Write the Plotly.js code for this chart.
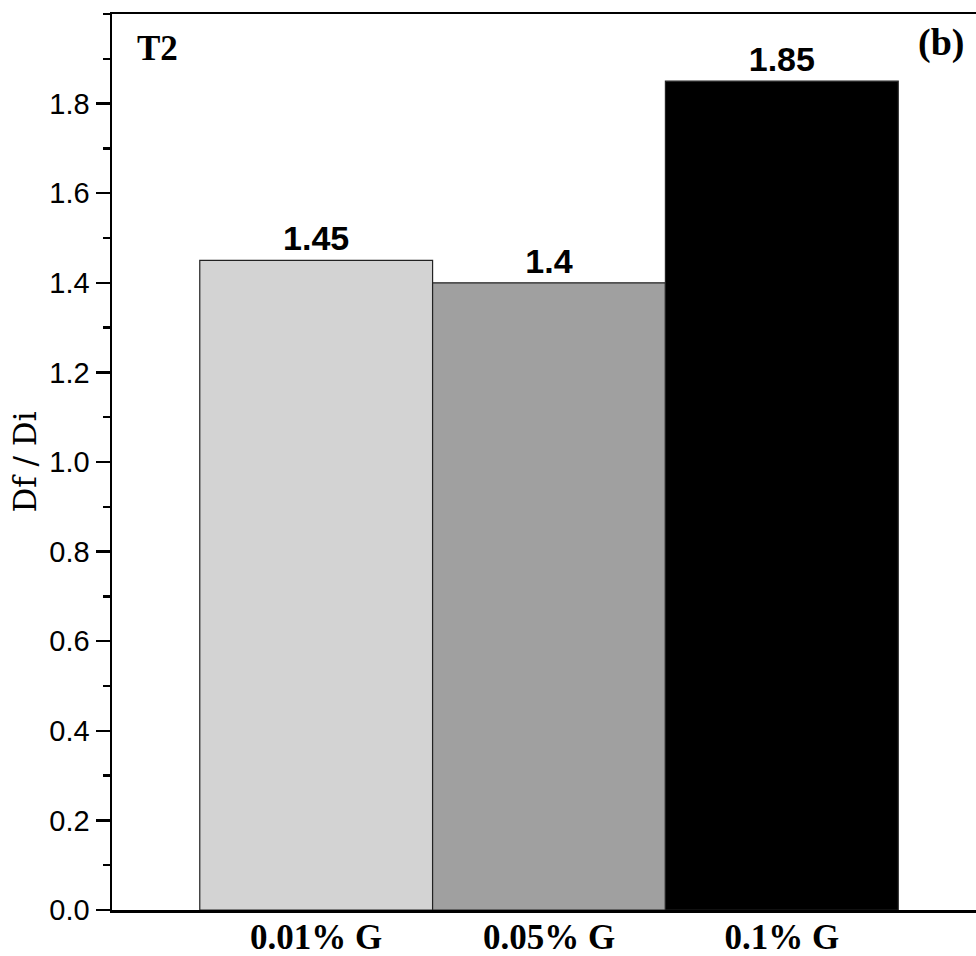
<!DOCTYPE html>
<html>
<head>
<meta charset="utf-8">
<script src="https://cdn.plot.ly/plotly-3.0.1.min.js"></script>
<style>
html,body{margin:0;padding:0;overflow:hidden;background:#fff;}
#chart{width:1000px;height:956px;}
</style>
</head>
<body>
<div id="chart"></div>
<script>
const categories = ["0.01% G", "0.05% G", "0.1% G"];
const values = [1.45, 1.4, 1.85];
const valueLabels = ["1.45", "1.4", "1.85"];
const barColors = ["#d3d3d3", "#a0a0a0", "#000000"];
const yTickVals = [0, 0.2, 0.4, 0.6, 0.8, 1.0, 1.2, 1.4, 1.6, 1.8];
const yTickText = ["0.0", "0.2", "0.4", "0.6", "0.8", "1.0", "1.2", "1.4", "1.6", "1.8"];

const trace = {
  type: "bar",
  x: [0, 1, 2],
  y: values,
  width: 1,
  marker: {color: barColors, line: {color: "#222", width: 1.2}},
  text: valueLabels,
  textposition: "outside",
  cliponaxis: false,
  textfont: {family: "Liberation Sans, Arial, sans-serif", size: 34, color: "#000", weight: "bold"},
  hoverinfo: "none"
};

const layout = {
  width: 1000,
  height: 956,
  margin: {l: 112, r: 14, t: 14, b: 46},
  paper_bgcolor: "#fff",
  plot_bgcolor: "#fff",
  showlegend: false,
  bargap: 0,
  xaxis: {
    range: [-0.877, 2.877],
    tickmode: "array",
    tickvals: [0, 1, 2],
    ticktext: categories,
    ticks: "",
    ticklabelstandoff: -6,
    automargin: false,
    showline: true, mirror: true, linecolor: "#000", linewidth: 2.5,
    showgrid: false, zeroline: false,
    tickfont: {family: "Liberation Serif, Times New Roman, serif", size: 35, color: "#000", weight: "bold"}
  },
  yaxis: {
    range: [0, 2.0],
    tickmode: "array",
    tickvals: yTickVals,
    ticktext: yTickText,
    ticks: "outside", ticklen: 14, tickwidth: 2.5, tickcolor: "#000",
    minor: {dtick: 0.1, tick0: 0, ticks: "outside", ticklen: 7, tickwidth: 2.5, tickcolor: "#000", showgrid: false},
    showline: true, mirror: true, linecolor: "#000", linewidth: 2.5,
    showgrid: false, zeroline: false,
    automargin: true,
    tickfont: {family: "Liberation Sans, Arial, sans-serif", size: 29, color: "#000"},
    title: {text: "Df / Di", font: {family: "DejaVu Serif, Liberation Serif, serif", size: 31, color: "#000"}, standoff: 4}
  },
  annotations: [
    {text: "T2", xref: "paper", yref: "paper", x: 0.026, y: 0.962, xanchor: "left", yanchor: "middle", showarrow: false,
     font: {family: "Liberation Serif, Times New Roman, serif", size: 35, color: "#000", weight: "bold"}},
    {text: "(b)", xref: "paper", yref: "paper", x: 0.920, y: 0.968, xanchor: "left", yanchor: "middle", showarrow: false,
     font: {family: "Liberation Serif, Times New Roman, serif", size: 38, color: "#000", weight: "bold"}}
  ]
};

Plotly.newPlot("chart", [trace], layout, {displayModeBar: false, staticPlot: true});
</script>
</body>
</html>
